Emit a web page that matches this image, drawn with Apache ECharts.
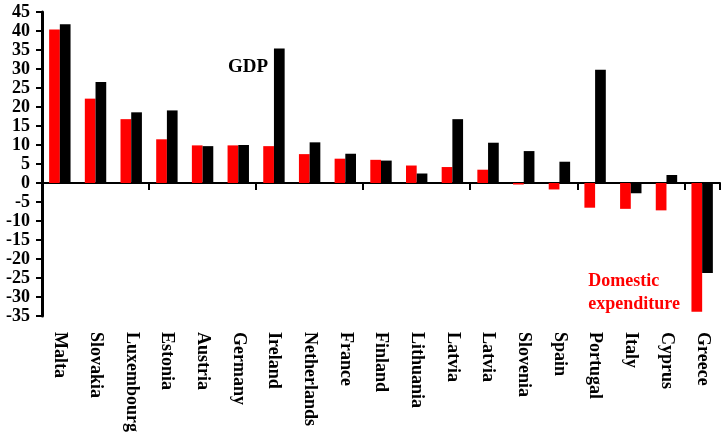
<!DOCTYPE html>
<html>
<head>
<meta charset="utf-8">
<script src="https://cdn.jsdelivr.net/npm/echarts@6/dist/echarts.min.js"></script>
<style>html,body{margin:0;padding:0;background:#fff;}#c{width:727px;height:439px;}</style>
</head>
<body>
<div id="c"></div>
<script>
var categories = ['Malta','Slovakia','Luxembourg','Estonia','Austria','Germany','Ireland','Netherlands','France','Finland','Lithuania','Latvia','Latvia','Slovenia','Spain','Portugal','Italy','Cyprus','Greece'];
var domesticExpenditure = [40.4, 22.2, 16.8, 11.5, 9.9, 9.9, 9.7, 7.6, 6.4, 6.1, 4.6, 4.2, 3.5, -0.4, -1.7, -6.5, -6.8, -7.2, -33.9];
var gdp = [41.8, 26.6, 18.6, 19.1, 9.7, 10.0, 35.4, 10.7, 7.7, 5.9, 2.5, 16.8, 10.6, 8.4, 5.6, 29.8, -2.7, 2.1, -23.7];
var yMin = -35, yMax = 45, yStep = 5;

var FONT = '"Liberation Serif", "Times New Roman", serif';
var chart = echarts.init(document.getElementById('c'), null, {renderer: 'canvas'});
chart.setOption({
  animation: false,
  backgroundColor: '#ffffff',
  grid: {left: 42, right: 7, top: 12, bottom: 123, containLabel: false},
  xAxis: [{
    type: 'category',
    data: categories,
    position: 'bottom',
    axisLine: {onZero: true, lineStyle: {color: '#000', width: 2}},
    axisTick: {show: true, length: 7, lineStyle: {color: '#000', width: 2}},
    axisLabel: {show: false}
  }, {
    type: 'category',
    data: categories,
    position: 'bottom',
    axisLine: {show: false, onZero: false},
    axisTick: {show: false},
    axisLabel: {
      show: true, rotate: -90, interval: 0, margin: 16,
      fontFamily: FONT, fontWeight: 'bold', fontSize: 18, color: '#000'
    }
  }],
  yAxis: {
    type: 'value',
    min: yMin, max: yMax, interval: yStep,
    axisLine: {show: true, lineStyle: {color: '#000', width: 3}},
    axisTick: {show: true, length: 6, lineStyle: {color: '#000', width: 2}},
    splitLine: {show: false},
    axisLabel: {fontFamily: FONT, fontWeight: 'bold', fontSize: 18, color: '#000', margin: 12}
  },
  series: [{
    name: 'Domestic expenditure',
    type: 'bar',
    xAxisIndex: 0,
    data: domesticExpenditure,
    itemStyle: {color: '#ff0000'},
    barGap: '0%',
    barCategoryGap: '40%'
  }, {
    name: 'GDP',
    type: 'bar',
    xAxisIndex: 0,
    data: gdp,
    itemStyle: {color: '#000000'},
    barGap: '0%',
    barCategoryGap: '40%'
  }],
  graphic: [{
    type: 'text', left: 228, top: 58,
    style: {text: 'GDP', font: 'bold 19px ' + FONT, fill: '#000'}
  }, {
    type: 'text', right: 47, top: 270,
    style: {text: 'Domestic\nexpenditure', font: 'bold 18px ' + FONT, fill: '#ff0000', align: 'right', lineHeight: 23}
  }]
});
</script>
</body>
</html>
